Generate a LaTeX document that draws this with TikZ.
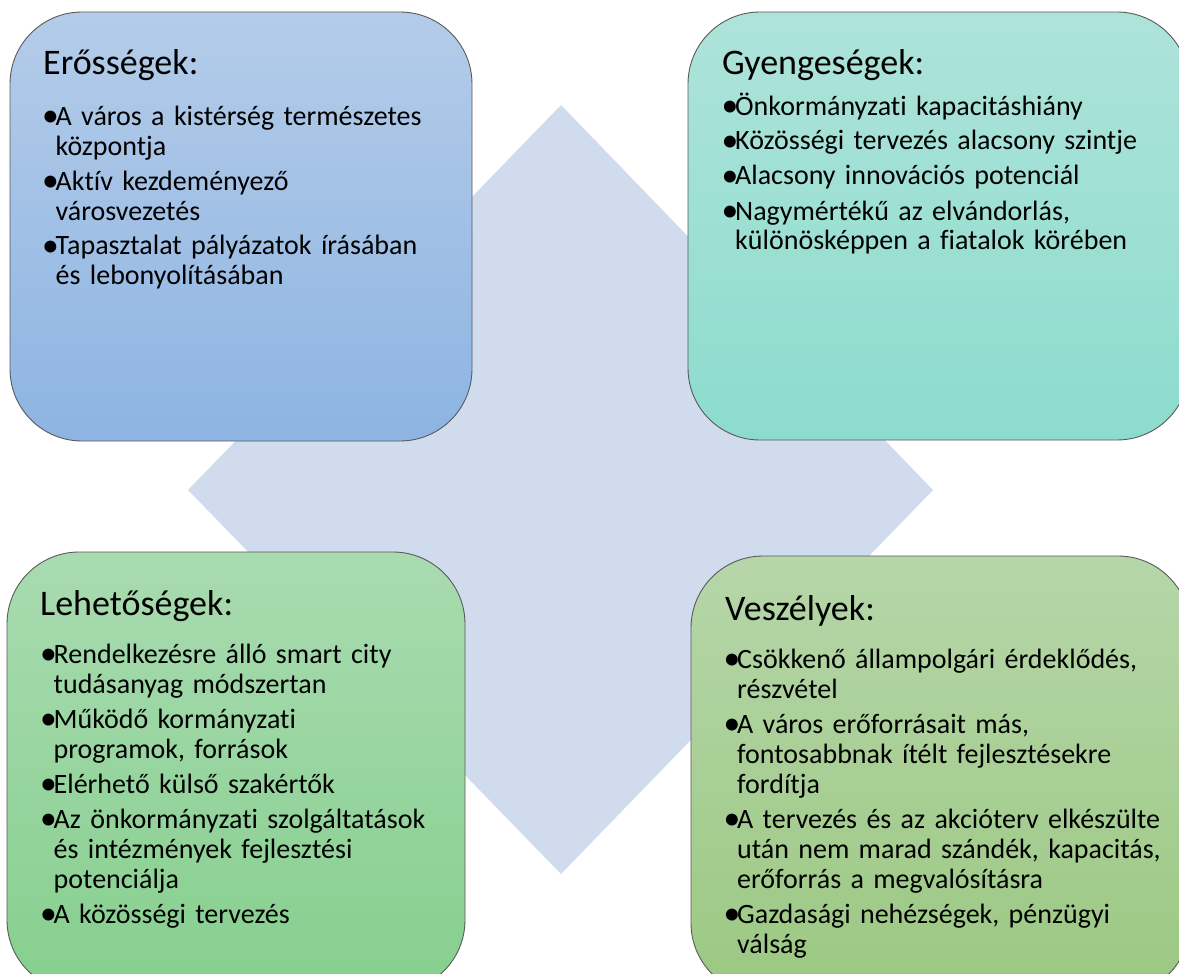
\documentclass[tikz,border=0pt]{standalone}
\usepackage{fontspec}
\setmainfont{Carlito}[Ligatures=CommonOff]

\definecolor{diamondblue}{HTML}{D0DCEE}
\definecolor{strtop}{HTML}{B4CCE9}
\definecolor{strbot}{HTML}{8DB4E2}
\definecolor{weaktop}{HTML}{AEE3DA}
\definecolor{weakbot}{HTML}{8CDCCD}
\definecolor{opptop}{HTML}{A9DBB1}
\definecolor{oppbot}{HTML}{86CF8E}
\definecolor{thrtop}{HTML}{B6D6A9}
\definecolor{thrbot}{HTML}{9BC882}

\newcommand{\itemdot}{\makebox[10.5pt][l]{\hspace*{-3pt}\raisebox{-1.5pt}{\scalebox{1.2}{•}}}}
\newcommand{\itemgap}{\hspace*{10.5pt}}

\begin{document}
\begin{tikzpicture}[x=1pt, y=-1pt,
    card/.style={draw=black!65, line width=0.9pt, rounded corners=72pt},
    title/.style={anchor=base west, inner sep=0pt, font=\fontsize{36}{43}\selectfont},
    items/.style={anchor=base west, inner sep=0pt, text width=445pt, align=left,
        font=\fontsize{28}{30}\selectfont}]

    \useasboundingbox (0,0) rectangle (1179,974);

    % background diamond
    \fill[diamondblue] (561,105) -- (933,490) -- (561,874) -- (188,490) -- cycle;

    \draw[card, top color=strtop, bottom color=strbot] (10,12) rectangle (472,441);
    \draw[card, top color=weaktop, bottom color=weakbot] (688,12) rectangle (1189,440);
    \draw[card, top color=opptop, bottom color=oppbot] (7,552) rectangle (465,992);
    \draw[card, top color=thrtop, bottom color=thrbot] (691,556) rectangle (1190,995);

    \node[title] (str) at (43,75) {Erősségek:};
    \node[items] (strlist) at (45,125) {\itemdot A város a kistérség természetes\\
        \itemgap központja\\[5pt]
        \itemdot Aktív kezdeményező\\
        \itemgap városvezetés\\[5pt]
        \itemdot Tapasztalat pályázatok írásában\\
        \itemgap és lebonyolításában};

    \node[title] (weak) at (722,75) {Gyengeségek:};
    \node[items] (weaklist) at (724.5,115) {\itemdot Önkormányzati kapacitáshiány\\[5pt]
        \itemdot Közösségi tervezés alacsony szintje\\[5pt]
        \itemdot Alacsony innovációs potenciál\\[5pt]
        \itemdot Nagymértékű az elvándorlás,\\
        \itemgap különösképpen a fiatalok körében};

    \node[title] (opp) at (40,615) {Lehetőségek:};
    \node[items] (opplist) at (43,663) {\itemdot Rendelkezésre álló smart city\\
        \itemgap tudásanyag módszertan\\[5pt]
        \itemdot Működő kormányzati\\
        \itemgap programok, források\\[5pt]
        \itemdot Elérhető külső szakértők\\[5pt]
        \itemdot Az önkormányzati szolgáltatások\\
        \itemgap és intézmények fejlesztési\\
        \itemgap potenciálja\\[5pt]
        \itemdot A közösségi tervezés};

    \node[title] (thr) at (725,620) {Veszélyek:};
    \node[items] (thrlist) at (726.5,668) {\itemdot Csökkenő állampolgári érdeklődés,\\
        \itemgap részvétel\\[5pt]
        \itemdot A város erőforrásait más,\\
        \itemgap fontosabbnak ítélt fejlesztésekre\\
        \itemgap fordítja\\[5pt]
        \itemdot A tervezés és az akcióterv elkészülte\\
        \itemgap után nem marad szándék, kapacitás,\\
        \itemgap erőforrás a megvalósításra\\[5pt]
        \itemdot Gazdasági nehézségek, pénzügyi\\
        \itemgap válság};

\end{tikzpicture}
\end{document}
